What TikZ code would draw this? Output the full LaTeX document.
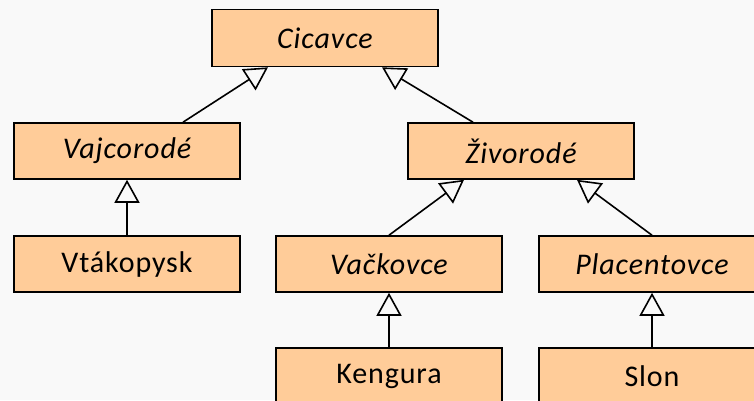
\documentclass[tikz,border=0pt]{standalone}
\usepackage{fontspec}
\setmainfont[LetterSpace=3]{Carlito}
\usetikzlibrary{arrows.meta}
\definecolor{bgc}{RGB}{249,249,249}
\definecolor{boxc}{RGB}{255,204,153}
\tikzset{
  cls/.style={draw=black, fill=boxc, line width=1.6pt, minimum width=226pt, minimum height=56pt, inner sep=0pt, font=\fontsize{30}{35}\selectfont},
  abs/.style={cls, font=\fontsize{30}{35}\selectfont\itshape},
  gen/.style={line width=1.6pt, -{Triangle[open, length=23pt, width=25pt]}}
}
\begin{document}
\begin{tikzpicture}[x=1pt,y=-1pt]
\useasboundingbox (0,0) rectangle (754,400);
\clip (0,0) rectangle (754,400);
\fill[bgc] (0,0) rectangle (754,400);
\node[abs, minimum height=57pt] (cic) at (325,38) {Cicavce};
\node[abs] (vaj) at (127,151) {Vajcorodé};
\node[abs] (ziv) at (521,151) {Živorodé};
\node[cls] (vtak) at (127,264) {Vtákopysk};
\node[abs] (vac) at (389,264) {Vačkovce};
\node[abs] (pla) at (652,264) {Placentovce};
\node[cls] (ken) at (389,376) {Kengura};
\node[cls] (slon) at (652,376) {Slon};
\draw[gen] ([xshift=56pt]vaj.north) -- ([xshift=-57pt]cic.south);
\draw[gen] ([xshift=-48pt]ziv.north) -- ([xshift=57pt]cic.south);
\draw[gen] (vtak.north) -- (vaj.south);
\draw[gen] (vac.north) -- ([xshift=-57pt]ziv.south);
\draw[gen] (pla.north) -- ([xshift=56pt]ziv.south);
\draw[gen] (ken.north) -- (vac.south);
\draw[gen] (slon.north) -- (pla.south);
\end{tikzpicture}
\end{document}
